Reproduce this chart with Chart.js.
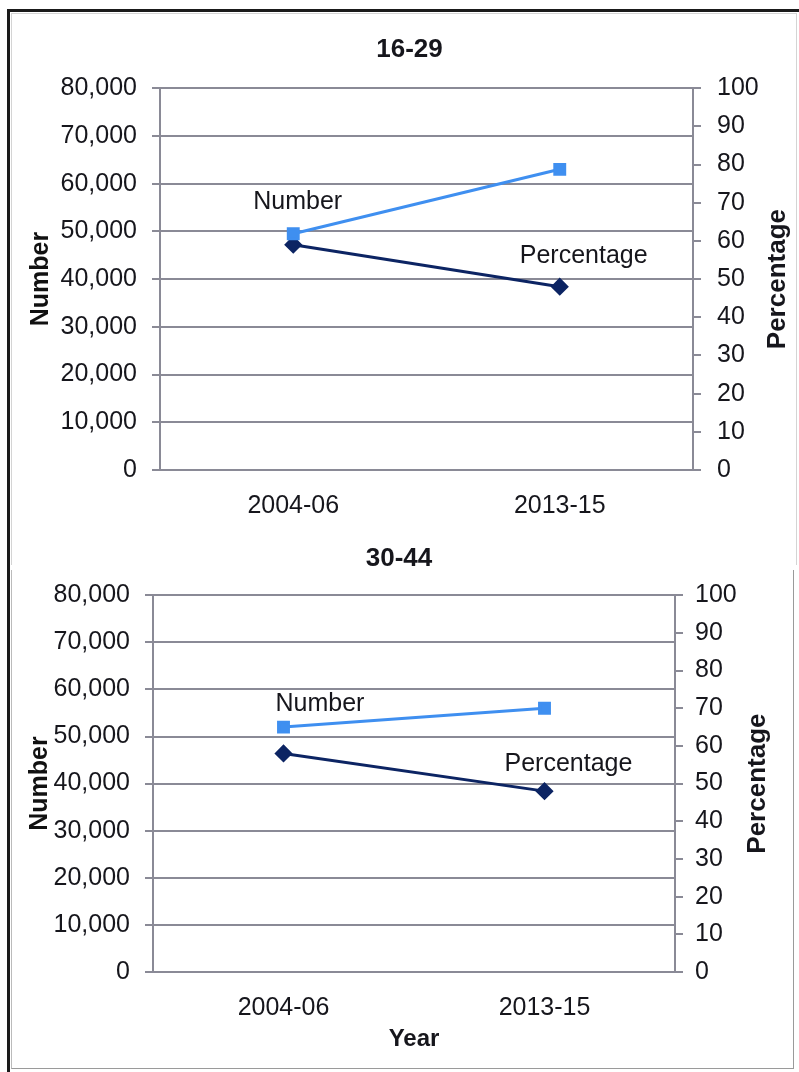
<!DOCTYPE html>
<html>
<head>
<meta charset="utf-8">
<script src="https://cdn.jsdelivr.net/npm/chart.js@4.4.1/dist/chart.umd.min.js"></script>
<style>
  body { margin: 0; background: #fff; width: 799px; height: 1072px; position: relative; overflow: hidden; }
  .outer { position: absolute; left: 7px; top: 9px; width: 792px; height: 1063px; border-left: 3px solid #1a1a1a; border-top: 3px solid #1a1a1a; box-sizing: border-box; }
  .box1 { position: absolute; left: 11px; top: 13px; width: 786px; height: 552px; border: 1px solid #d4d4d4; border-bottom: none; box-sizing: border-box; }
  .box2 { position: absolute; left: 11px; top: 570px; width: 783px; height: 499px; border: 1px solid #9a9a9a; border-top: none; border-left-color: #bbb; box-sizing: border-box; }
  canvas { position: absolute; left: 10px; }
  #c1 { top: 12px; }
  #c2 { top: 540px; }
</style>
</head>
<body>
<div class="outer"></div>
<div class="box1"></div>
<div class="box2"></div>
<canvas id="c1" width="787" height="528"></canvas>
<canvas id="c2" width="787" height="530"></canvas>
<script>
const categories = ['2004-06', '2013-15'];
const number1629 = [49500, 63000];
const percent1629 = [59, 48];
const number3044 = [52000, 56000];
const percent3044 = [58, 48];

const GRID = '#8a8a96';
const TEXT = '#16161c';
const LIGHT = '#3f8ff0';
const NAVY = '#0c2463';
const FONT = '"Liberation Sans", Arial, sans-serif';

// draws point labels and the right-hand axis title (reads bottom to top)
const extras = {
  id: 'extras',
  afterDraw(chart, args, opts) {
    const ctx = chart.ctx;
    ctx.save();
    ctx.fillStyle = TEXT;
    ctx.font = '25px ' + FONT;
    ctx.textBaseline = 'middle';
    ctx.textAlign = 'left';
    opts.labels.forEach(l => {
      const p = chart.getDatasetMeta(l.dataset).data[l.index];
      ctx.fillText(l.text, p.x + l.dx, p.y + l.dy);
    });
    const s = chart.scales.y1;
    ctx.font = 'bold 26px ' + FONT;
    ctx.textAlign = 'center';
    ctx.translate(s.right - 19, (chart.chartArea.top + chart.chartArea.bottom) / 2);
    ctx.rotate(-Math.PI / 2);
    ctx.fillText('Percentage', 0, 0);
    ctx.restore();
  }
};

function makeChart(id, title, numbers, percents, cfg) {
  return new Chart(document.getElementById(id), {
    type: 'line',
    data: {
      labels: categories,
      datasets: [
        { label: 'Number', data: numbers, yAxisID: 'y', borderColor: LIGHT, backgroundColor: LIGHT,
          borderWidth: 3, pointStyle: 'rect', pointRadius: 7, pointHoverRadius: 7 },
        { label: 'Percentage', data: percents, yAxisID: 'y1', borderColor: NAVY, backgroundColor: NAVY,
          borderWidth: 3, pointStyle: 'rectRot', pointRadius: 7, pointHoverRadius: 7 }
      ]
    },
    options: {
      responsive: false,
      animation: false,
      devicePixelRatio: 1,
      layout: { padding: cfg.padding },
      plugins: {
        legend: { display: false },
        tooltip: { enabled: false },
        title: { display: true, text: title, color: TEXT,
          font: { family: FONT, size: 26, weight: 'bold' },
          padding: cfg.titlePad },
        extras: { labels: cfg.labels }
      },
      scales: {
        x: {
          offset: true,
          grid: { display: false, drawTicks: false },
          border: { display: false },
          ticks: { color: TEXT, padding: 21, font: { family: FONT, size: 25 } },
          title: { display: cfg.showYear, text: 'Year', color: TEXT,
            font: { family: FONT, size: 24, weight: 'bold' } },
          afterFit(s) { s.height = cfg.xHeight; }
        },
        y: {
          position: 'left', min: 0, max: 80000,
          grid: { color: GRID, lineWidth: 2, tickLength: 8 },
          border: { color: GRID, width: 2 },
          ticks: { stepSize: 10000, color: TEXT, padding: 15,
            font: { family: FONT, size: 25 },
            callback: v => v.toLocaleString('en-US') },
          title: { display: true, text: 'Number', color: '#111',
            font: { family: FONT, size: 25, weight: 'bold' } },
          afterFit(s) { s.width = cfg.yWidth; }
        },
        y1: {
          position: 'right', min: 0, max: 100,
          grid: { drawOnChartArea: false, color: GRID, lineWidth: 2, tickLength: 8 },
          border: { color: GRID, width: 2 },
          ticks: { stepSize: 10, color: TEXT, padding: cfg.y1Pad,
            font: { family: FONT, size: 25 } },
          afterFit(s) { s.width = cfg.y1Width; }
        }
      }
    },
    plugins: [extras]
  });
}

makeChart('c1', '16-29', number1629, percent1629, {
  padding: { left: 12, right: 0, top: 0, bottom: 0 },
  titlePad: { top: 22, bottom: 23 },
  xHeight: 70, yWidth: 138, y1Width: 104, y1Pad: 16, showYear: false,
  labels: [
    { dataset: 0, index: 0, text: 'Number', dx: -40, dy: -32 },
    { dataset: 1, index: 1, text: 'Percentage', dx: -40, dy: -31 }
  ]
});

makeChart('c2', '30-44', number3044, percent3044, {
  padding: { left: 11, right: 20, top: 0, bottom: 12 },
  titlePad: { top: 3, bottom: 21 },
  xHeight: 86, yWidth: 132, y1Width: 102, y1Pad: 12, showYear: true,
  labels: [
    { dataset: 0, index: 0, text: 'Number', dx: -8, dy: -23 },
    { dataset: 1, index: 1, text: 'Percentage', dx: -40, dy: -27 }
  ]
});
</script>
</body>
</html>
